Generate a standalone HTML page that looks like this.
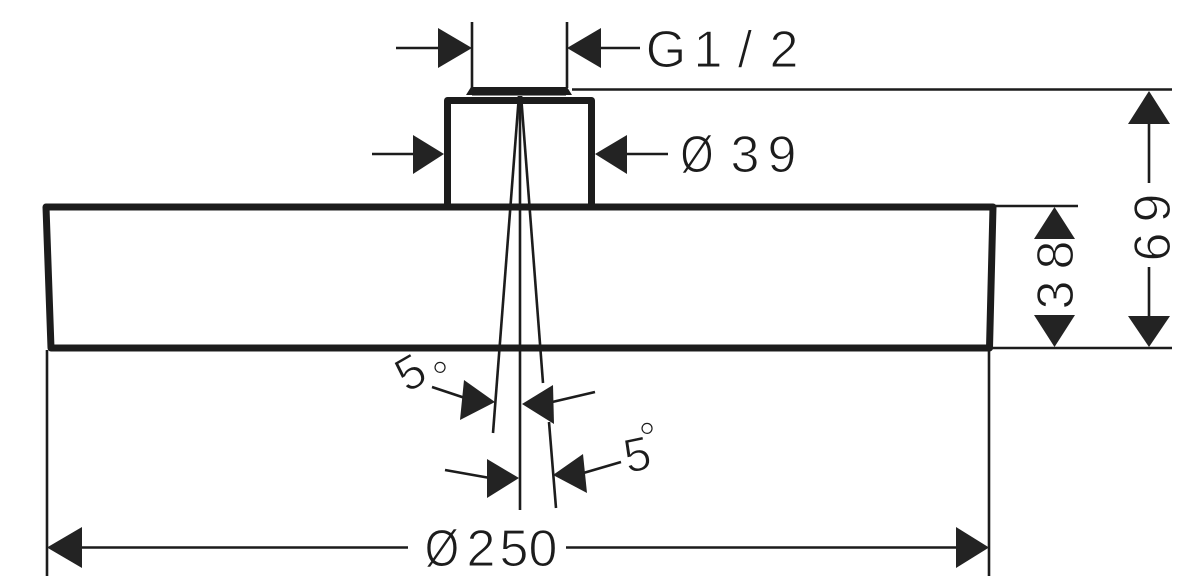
<!DOCTYPE html>
<html>
<head>
<meta charset="utf-8">
<style>
  html, body { margin:0; padding:0; background:#fff; }
  body { width:1200px; height:584px; overflow:hidden; }
  svg { display:block; }
  text { font-family: "Liberation Sans", "DejaVu Sans", sans-serif; fill:#1c1c1c; stroke:#fff; stroke-width:1.1px; }
</style>
</head>
<body>
<svg width="1200" height="584" viewBox="0 0 1200 584" xmlns="http://www.w3.org/2000/svg">
  <rect width="1200" height="584" fill="#fff"/>

  <!-- thin lines -->
  <g stroke="#1c1c1c" stroke-width="2.6" fill="none" stroke-linecap="butt">
    <!-- G1/2 extension lines -->
    <line x1="472" y1="22" x2="472" y2="88"/>
    <line x1="567" y1="22" x2="567" y2="88"/>
    <!-- top extension -->
    <line x1="572" y1="89.5" x2="1172" y2="89.5"/>
    <!-- 38 top extension -->
    <line x1="995" y1="206" x2="1078" y2="206"/>
    <!-- bottom extension -->
    <line x1="992" y1="348" x2="1172" y2="348"/>
    <!-- left/right extension for Ø250 -->
    <line x1="47" y1="350" x2="47" y2="576"/>
    <line x1="989" y1="350" x2="989" y2="576"/>
    <!-- Ø250 dimension line -->
    <line x1="60" y1="547.5" x2="408" y2="547.5"/>
    <line x1="566" y1="547.5" x2="975" y2="547.5"/>
    <!-- G1/2 dimension lines -->
    <line x1="396" y1="48" x2="445" y2="48"/>
    <line x1="595" y1="48" x2="640" y2="48"/>
    <!-- Ø39 dimension lines -->
    <line x1="372" y1="154" x2="420" y2="154"/>
    <line x1="620" y1="154" x2="668" y2="154"/>
    <!-- 69 dimension line -->
    <line x1="1149" y1="115" x2="1149" y2="183"/>
    <line x1="1149" y1="267" x2="1149" y2="320"/>
    <!-- center lines -->
    <line x1="520" y1="95" x2="520" y2="510"/>
    <line x1="519" y1="95" x2="493" y2="433"/>
    <line x1="521" y1="95" x2="543" y2="383"/>
    <line x1="549" y1="422" x2="556" y2="508"/>
    <!-- angle arrow leaders -->
    <line x1="432" y1="387" x2="465" y2="398"/>
    <line x1="548" y1="403" x2="595" y2="392"/>
    <line x1="445" y1="470" x2="490" y2="478"/>
    <line x1="580" y1="474" x2="621" y2="462"/>
  </g>

  <!-- thick outlines -->
  <g stroke="#1c1c1c" stroke-width="7" fill="none" stroke-linejoin="round">
    <path d="M51,348 L46,207 L993,207 L989.5,348 Z"/>
    <path d="M447.5,207 L447.5,100.5 L591.5,100.5 L591.5,207"/>
  </g>

  <!-- nut plate -->
  <polygon points="466,95 471,87 567,87 572,95" fill="#1c1c1c"/>
  <line x1="472" y1="95.5" x2="566" y2="95.5" stroke="#888" stroke-width="1"/>

  <!-- arrowheads -->
  <g fill="#232323">
    <polygon points="47,547.5 82,527 82,568"/>
    <polygon points="989,547.5 956,527 956,568"/>
    <polygon points="472,48 438,28 438,68"/>
    <polygon points="567,48 601,28 601,68"/>
    <polygon points="444,154 413,135 413,174"/>
    <polygon points="595,154 627,135 627,174"/>
    <polygon points="1054.5,207 1034,239 1075,239"/>
    <polygon points="1054.5,347 1034,315 1075,315"/>
    <polygon points="1149,91 1128,124 1170,124"/>
    <polygon points="1149,347 1128,316 1170,316"/>
    <polygon points="495,402 464,380 460,420"/>
    <polygon points="522,404 553,385 554,424"/>
    <polygon points="519,478 487,459 487,498"/>
    <polygon points="553,475 583,454 587,493"/>
  </g>

  <!-- labels -->
  <g font-size="52" text-anchor="middle">
    <text x="666" y="67">G</text>
    <text x="708" y="67">1</text>
    <text x="745" y="67">/</text>
    <text x="784" y="67">2</text>

    <text x="0" y="0" transform="translate(697,172) scale(0.82,1)">Ø</text>
    <text x="745" y="172">3</text>
    <text x="782" y="172">9</text>

    <text x="0" y="0" transform="translate(442,566) scale(0.85,1)">Ø</text>
    <text x="481" y="566">2</text>
    <text x="514" y="566">5</text>
    <text x="543" y="566">0</text>

    <g transform="translate(1073,275) rotate(-90)">
      <text x="-20" y="0">3</text>
      <text x="20" y="0">8</text>
    </g>
    <g transform="translate(1170,227.5) rotate(-90)">
      <text x="-19.5" y="0">6</text>
      <text x="19.5" y="0">9</text>
    </g>
  </g>

  <!-- angle labels -->
  <g text-anchor="middle">
    <text font-size="48" transform="translate(410,372) rotate(-30)" x="0" y="17">5</text>
    <text font-size="44" x="440" y="392">°</text>
    <text font-size="48" transform="translate(637,454) rotate(-12)" x="0" y="17">5</text>
    <text font-size="44" x="647" y="453">°</text>
  </g>
</svg>
</body>
</html>
